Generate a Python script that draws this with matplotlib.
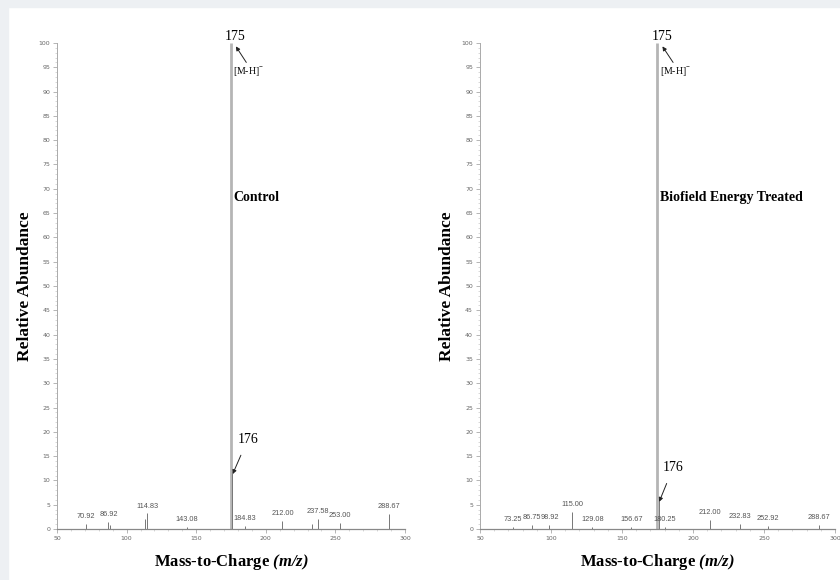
import matplotlib.pyplot as plt
from matplotlib.patches import Rectangle

# control spectrum
ctrl_mz = [70.92, 86.92, 88.0, 113.0, 114.83, 143.08, 175.0, 176.0, 184.83, 212.00, 233.0, 237.58, 253.00, 288.67]
ctrl_int = [1.0, 1.5, 0.8, 2.0, 3.2, 0.5, 100.0, 11.5, 0.6, 1.7, 1.0, 2.0, 1.3, 3.1]
ctrl_lab = ['70.92', '86.92', '', '', '114.83', '143.08', '', '', '184.83', '212.00', '', '237.58', '253.00', '288.67']

# biofield energy treated spectrum
trt_mz = [73.25, 86.75, 98.92, 115.00, 129.08, 156.67, 175.0, 176.0, 180.25, 212.00, 232.83, 252.92, 288.67]
trt_int = [0.5, 0.8, 0.8, 3.6, 0.5, 0.4, 100.0, 6.0, 0.4, 1.9, 1.0, 0.6, 0.9]
trt_lab = ['73.25', '86.75', '98.92', '115.00', '129.08', '156.67', '', '', '180.25', '212.00', '232.83', '252.92', '288.67']

serif = ['Liberation Serif', 'DejaVu Serif']
sans = ['Liberation Sans', 'DejaVu Sans']

plt.rcParams['mathtext.fontset'] = 'custom'
plt.rcParams['mathtext.bfit'] = 'Liberation Serif:bold:italic'
plt.rcParams['mathtext.rm'] = 'Liberation Serif'

fig = plt.figure(figsize=(8.4, 5.8), dpi=100)
fig.patches.append(Rectangle((0, 0.988), 1, 0.012, transform=fig.transFigure, color='#edf0f3', zorder=0))
fig.patches.append(Rectangle((0, 0), 0.0095, 1, transform=fig.transFigure, color='#edf0f3', zorder=0))

arrow = dict(arrowstyle='-|>', color='#222222', lw=0.7, mutation_scale=6, shrinkA=0, shrinkB=0)


def spectrum(rect, mz, inten, labels, title, lab176, ylab_x):
    ax = fig.add_axes(rect)
    ax.set_xlim(50, 300)
    ax.set_ylim(0, 100)
    for m, v, lab in zip(mz, inten, labels):
        if m == 175.0:
            ax.vlines(m, 0, v, color='#b5b5b5', lw=2.0, clip_on=False)
        else:
            ax.vlines(m, 0, v, color='#777777', lw=0.7)
        if lab:
            ax.text(m, v + 0.8, lab, ha='center', va='bottom', fontsize=5.3, color='#555555', family=sans)
    for s in ['top', 'right']:
        ax.spines[s].set_visible(False)
    ax.spines['left'].set_color('#aaaaaa')
    ax.spines['bottom'].set_color('#888888')
    ax.spines['left'].set_linewidth(0.7)
    ax.spines['bottom'].set_linewidth(0.9)
    ax.set_xticks(range(50, 301, 50))
    ax.set_xticks(range(50, 301, 10), minor=True)
    ax.set_yticks(range(0, 101, 5))
    ax.set_yticks(range(0, 101, 1), minor=True)
    ax.tick_params(labelsize=4.5, labelcolor='#666666', color='#999999', length=3, width=0.5, pad=2)
    ax.tick_params(which='minor', color='#bbbbbb', length=1.5, width=0.4)
    ax.set_facecolor('none')

    # base peak annotation
    ax.text(178, 101.3, '175', ha='center', va='center', fontsize=10, family=serif)
    ax.annotate('', xy=(178.5, 99.3), xytext=(186, 96.0), annotation_clip=False, arrowprops=arrow)
    ax.text(176.5, 94.2, '[M-H]$^{-}$', ha='left', va='center', fontsize=7, family=serif)
    ax.text(176.5, 68.2, title, ha='left', va='center', fontsize=10, fontweight='bold', family=serif)

    tx, ty, tipy = lab176
    ax.annotate('176', xy=(176.2, tipy), xytext=(tx, ty), ha='center', va='center',
                fontsize=10, family=serif,
                arrowprops=dict(arrow, shrinkA=5))

    ax.set_xlabel('Mass-to-Charge $\\mathbfit{(m/z)}$', fontsize=12, fontweight='bold', family=serif, labelpad=8)
    ax.set_ylabel('Relative Abundance', fontsize=12.5, fontweight='bold', family=serif)
    ax.yaxis.set_label_coords(ylab_x, 0.5)
    return ax


spectrum([0.0679, 0.0879, 0.4142, 0.838], ctrl_mz, ctrl_int, ctrl_lab, 'Control', (187, 18.4, 11.3), -0.07)
spectrum([0.5714, 0.0879, 0.4226, 0.838], trt_mz, trt_int, trt_lab, 'Biofield Energy Treated', (186, 12.6, 5.6), -0.07)

fig.savefig('out.png', dpi=100, facecolor='white')
